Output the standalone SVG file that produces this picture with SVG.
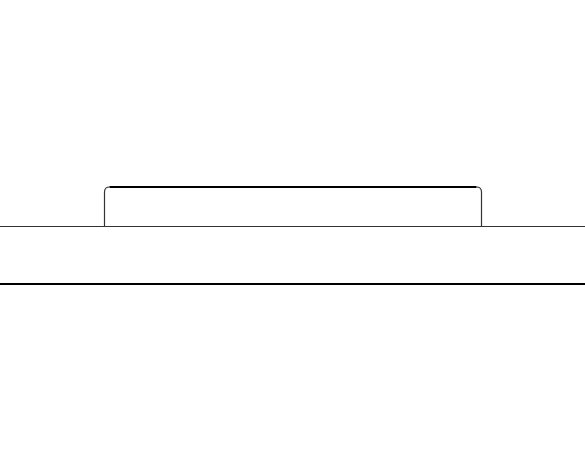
<svg xmlns="http://www.w3.org/2000/svg" width="585" height="471" viewBox="0 0 585 471">
<style>
.thin{fill:none;stroke:#333;stroke-width:1.2}
.top{fill:none;stroke:#000;stroke-width:1.8}
.thick{fill:none;stroke:#000;stroke-width:2}
</style>
<rect width="585" height="471" fill="#fff"/>
<g id="tab">
<path class="thin" d="M104.5 226 V192 Q104.5 187 109.5 187"/>
<path class="thin" d="M481.5 226 V192 Q481.5 187 476.5 187"/>
<path class="top" d="M109.5 187 H476.5"/>
</g>
<g id="base">
<path class="thin" d="M0 226.5 H585"/>
<path class="thick" d="M0 284 H585"/>
</g>
</svg>
